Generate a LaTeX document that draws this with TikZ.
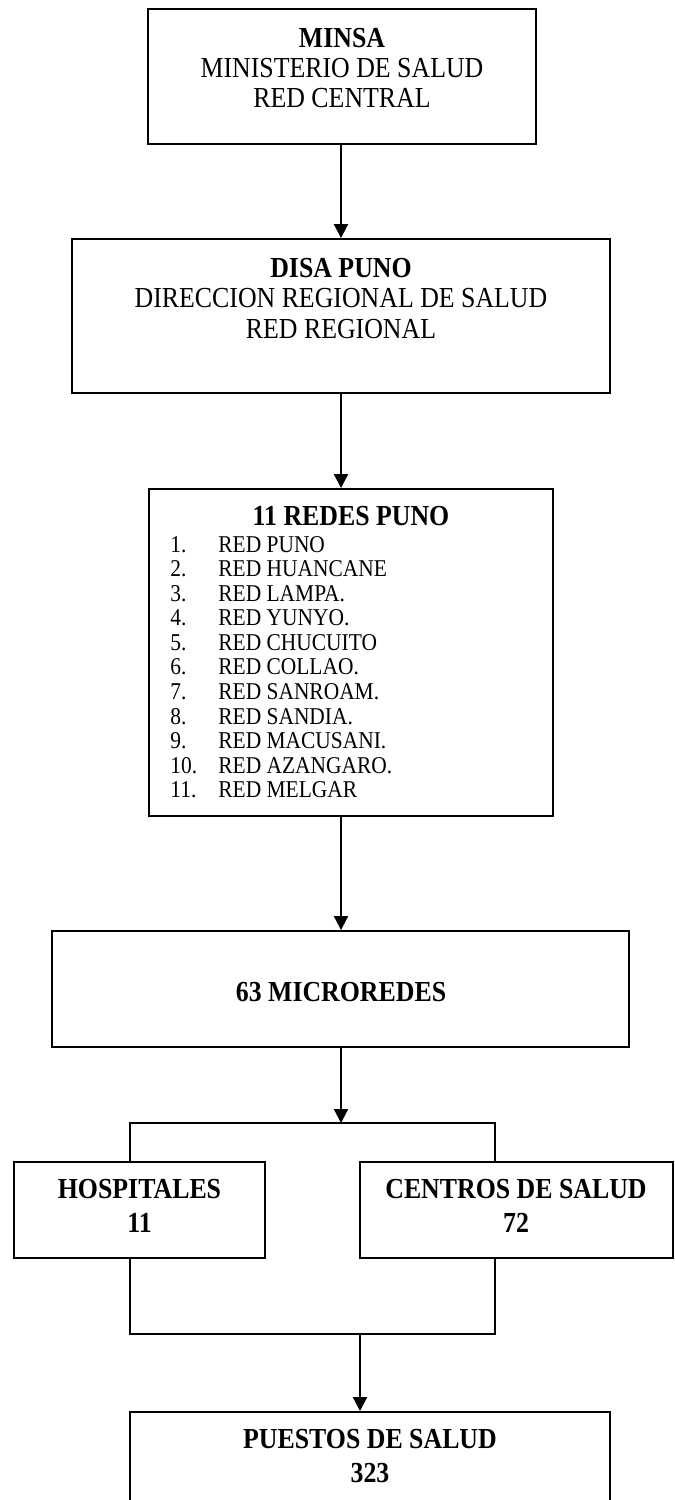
\documentclass[tikz,border=0pt]{standalone}
\usepackage{fontspec}
\setmainfont{Liberation Serif}[FakeStretch=0.89]
\usetikzlibrary{arrows.meta,fit}
\begin{document}
\begin{tikzpicture}[x=0.465pt,y=-0.465pt,
  box/.style={draw, line width=0.9pt, inner sep=0pt, rectangle},
  arr/.style={line width=1pt, -{Triangle[width=6.5pt,length=6.5pt]}},
  ln/.style={line width=0.9pt},
  txt/.style={inner sep=0pt, align=center, font=\fontsize{13.5}{13.95}\selectfont},
  btxt/.style={inner sep=0pt, align=center, font=\bfseries\fontsize{13.5}{15.8}\selectfont},
  lst/.style={inner sep=0pt, align=left, font=\fontsize{11.2}{11.4}\selectfont}
]
\useasboundingbox (0,0) rectangle (675,1500);
\clip (0,0) rectangle (675,1500);

% boxes
\node[box, fit={(148,9) (536,144)}] (minsa) {};
\node[box, fit={(72,239) (610,393)}] (disa) {};
\node[box, fit={(149,489) (553,816)}] (redes) {};
\node[box, fit={(52,931) (629,1047)}] (micro) {};
\node[box, fit={(14,1162) (265,1258)}] (hosp) {};
\node[box, fit={(360,1162) (673,1258)}] (centros) {};
\node[box, fit={(130,1412) (610,1540)}] (puestos) {};

% texts
\node[txt, anchor=north] (minsaT) at (342,27.4) {\textbf{MINSA}\\MINISTERIO DE SALUD\\RED CENTRAL};
\node[txt, anchor=north, font=\fontsize{13.5}{14.2}\selectfont] (disaT) at (341,257.4) {\textbf{DISA PUNO}\\DIRECCION REGIONAL DE SALUD\\RED REGIONAL};
\node[inner sep=0pt, anchor=base, font=\bfseries\fontsize{13.5}{14}\selectfont] (redesT) at (351,525.8) {11 REDES PUNO};
\node[lst, anchor=north west] (redesL) at (170,536) {%
\makebox[22.3pt][l]{1.}RED PUNO\\
\makebox[22.3pt][l]{2.}RED HUANCANE\\
\makebox[22.3pt][l]{3.}RED LAMPA.\\
\makebox[22.3pt][l]{4.}RED YUNYO.\\
\makebox[22.3pt][l]{5.}RED CHUCUITO\\
\makebox[22.3pt][l]{6.}RED COLLAO.\\
\makebox[22.3pt][l]{7.}RED SANROAM.\\
\makebox[22.3pt][l]{8.}RED SANDIA.\\
\makebox[22.3pt][l]{9.}RED MACUSANI.\\
\makebox[22.3pt][l]{10.}RED AZANGARO.\\
\makebox[22.3pt][l]{11.}RED MELGAR};
\node[inner sep=0pt, anchor=base, font=\bfseries\fontsize{13.5}{14}\selectfont] (microT) at (341,1001.8) {63 MICROREDES};
\node[btxt, anchor=north] (hospT) at (139.5,1178.4) {HOSPITALES\\11};
\node[btxt, anchor=north] (centrosT) at (516,1178.4) {CENTROS DE SALUD\\72};
\node[btxt, anchor=north] (puestosT) at (370,1428.4) {PUESTOS DE SALUD\\323};

% connectors
\coordinate (ax) at (341,0);
\coordinate (tl) at (130,1123);
\coordinate (tm) at (341,1123);
\coordinate (tr) at (495,1123);
\coordinate (bl) at (130,1334);
\coordinate (bm) at (360,1334);
\coordinate (br) at (495,1334);
\draw[arr] (minsa.south -| ax) -- (disa.north -| ax);
\draw[arr] (disa.south -| ax) -- (redes.north -| ax);
\draw[arr] (redes.south -| ax) -- (micro.north -| ax);
\draw[arr] (micro.south -| ax) -- (tm);
\draw[ln] (hosp.north -| tl) -- (tl) -- (tr) -- (centros.north -| tr);
\draw[ln] (hosp.south -| bl) -- (bl) -- (br) -- (centros.south -| br);
\draw[arr] (bm) -- (puestos.north -| bm);
\end{tikzpicture}
\end{document}
